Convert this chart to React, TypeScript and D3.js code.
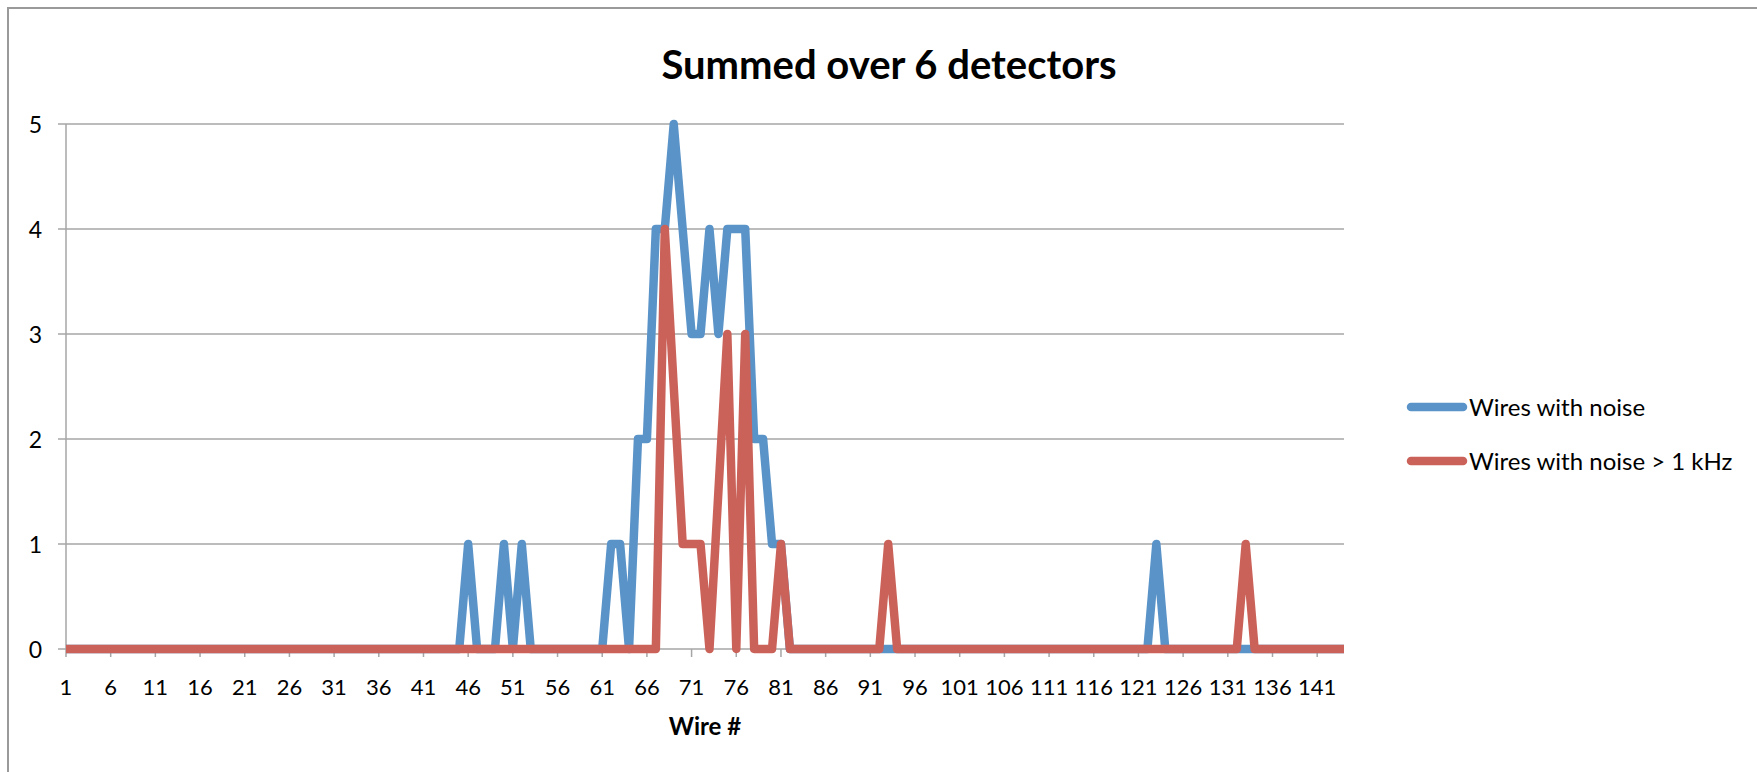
import React from "react";
import * as d3 from "d3";

const categories: number[] = d3.range(1, 145);

const wiresWithNoise: number[] = [
  0, 0, 0, 0, 0, 0, 0, 0, 0, 0,
  0, 0, 0, 0, 0, 0, 0, 0, 0, 0,
  0, 0, 0, 0, 0, 0, 0, 0, 0, 0,
  0, 0, 0, 0, 0, 0, 0, 0, 0, 0,
  0, 0, 0, 0, 0, 1, 0, 0, 0, 1,
  0, 1, 0, 0, 0, 0, 0, 0, 0, 0,
  0, 1, 1, 0, 2, 2, 4, 4, 5, 4,
  3, 3, 4, 3, 4, 4, 4, 2, 2, 1,
  1, 0, 0, 0, 0, 0, 0, 0, 0, 0,
  0, 0, 0, 0, 0, 0, 0, 0, 0, 0,
  0, 0, 0, 0, 0, 0, 0, 0, 0, 0,
  0, 0, 0, 0, 0, 0, 0, 0, 0, 0,
  0, 0, 1, 0, 0, 0, 0, 0, 0, 0,
  0, 0, 0, 0, 0, 0, 0, 0, 0, 0,
  0, 0, 0, 0,
];

const wiresWithNoise1kHz: number[] = [
  0, 0, 0, 0, 0, 0, 0, 0, 0, 0,
  0, 0, 0, 0, 0, 0, 0, 0, 0, 0,
  0, 0, 0, 0, 0, 0, 0, 0, 0, 0,
  0, 0, 0, 0, 0, 0, 0, 0, 0, 0,
  0, 0, 0, 0, 0, 0, 0, 0, 0, 0,
  0, 0, 0, 0, 0, 0, 0, 0, 0, 0,
  0, 0, 0, 0, 0, 0, 0, 4, 2.5, 1,
  1, 1, 0, 1.5, 3, 0, 3, 0, 0, 0,
  1, 0, 0, 0, 0, 0, 0, 0, 0, 0,
  0, 0, 1, 0, 0, 0, 0, 0, 0, 0,
  0, 0, 0, 0, 0, 0, 0, 0, 0, 0,
  0, 0, 0, 0, 0, 0, 0, 0, 0, 0,
  0, 0, 0, 0, 0, 0, 0, 0, 0, 0,
  0, 0, 1, 0, 0, 0, 0, 0, 0, 0,
  0, 0, 0, 0,
];

const xTickLabels: number[] = [1, 6, 11, 16, 21, 26, 31, 36, 41, 46, 51, 56, 61, 66, 71, 76, 81, 86, 91, 96, 101, 106, 111, 116, 121, 126, 131, 136, 141];
const yTicks: number[] = [0, 1, 2, 3, 4, 5];

const seriesNames = ["Wires with noise", "Wires with noise > 1 kHz"];
const seriesColors = ["#5A93C8", "#CB6259"];

const FONT = "Lato, 'Open Sans', sans-serif";

export default function App() {
  const W = 1757;
  const H = 772;
  const left = 66;
  const right = 1344;
  const top = 124;
  const bottom = 649;

  const x = d3.scalePoint<number>().domain(categories).range([left, right]);
  const y = d3.scaleLinear().domain([0, 5]).range([bottom, top]);

  const line = d3
    .line<number>()
    .x((_, i) => x(categories[i]) as number)
    .y((d) => y(d));

  const series = [wiresWithNoise, wiresWithNoise1kHz];
  const gridColor = "#A6A6A6";

  return (
    <svg
      width={W}
      height={H}
      style={{ position: "absolute", left: 0, top: 0, background: "#fff" }}
    >
      <rect x={0} y={0} width={W} height={H} fill="#fff" />
      <rect x={8} y={8} width={W + 40} height={H + 40} fill="none" stroke="#9A9A9A" strokeWidth={2} />

      <text x={889} y={79} textAnchor="middle" fontFamily={FONT} fontWeight={700} fontSize={40} fill="#000">
        Summed over 6 detectors
      </text>

      {/* gridlines */}
      {yTicks.map((t) => (
        <line key={"g" + t} x1={left - 8} x2={right} y1={y(t)} y2={y(t)} stroke={gridColor} strokeWidth={1.5} />
      ))}
      {/* y axis */}
      <line x1={left} x2={left} y1={top} y2={bottom} stroke={gridColor} strokeWidth={1.5} />
      {yTicks.map((t) => (
        <text key={"yl" + t} x={42} y={y(t) + 8.5} textAnchor="end" fontFamily={FONT} fontSize={23} fill="#000">
          {t}
        </text>
      ))}
      {/* x ticks */}
      {xTickLabels.map((c) => (
        <g key={"xt" + c}>
          <line x1={x(c)} x2={x(c)} y1={bottom} y2={bottom + 8} stroke={gridColor} strokeWidth={1.5} />
          <text x={x(c)} y={695} textAnchor="middle" fontFamily={FONT} fontSize={22} fill="#000">
            {c}
          </text>
        </g>
      ))}
      <text x={(left + right) / 2} y={735} textAnchor="middle" fontFamily={FONT} fontWeight={700} fontSize={24} fill="#000">
        Wire #
      </text>

      {series.map((s, i) => (
        <path
          key={"s" + i}
          d={line(s) || ""}
          fill="none"
          stroke={seriesColors[i]}
          strokeWidth={8.5}
          strokeLinejoin="round"
          strokeLinecap="butt"
        />
      ))}

      {/* legend */}
      {seriesNames.map((n, i) => (
        <g key={"lg" + i}>
          <line
            x1={1411}
            x2={1463}
            y1={407 + i * 54}
            y2={407 + i * 54}
            stroke={seriesColors[i]}
            strokeWidth={8.5}
            strokeLinecap="round"
          />
          <text x={1469} y={415.5 + i * 54} fontFamily={FONT} fontSize={24} fill="#000">
            {n}
          </text>
        </g>
      ))}
    </svg>
  );
}
